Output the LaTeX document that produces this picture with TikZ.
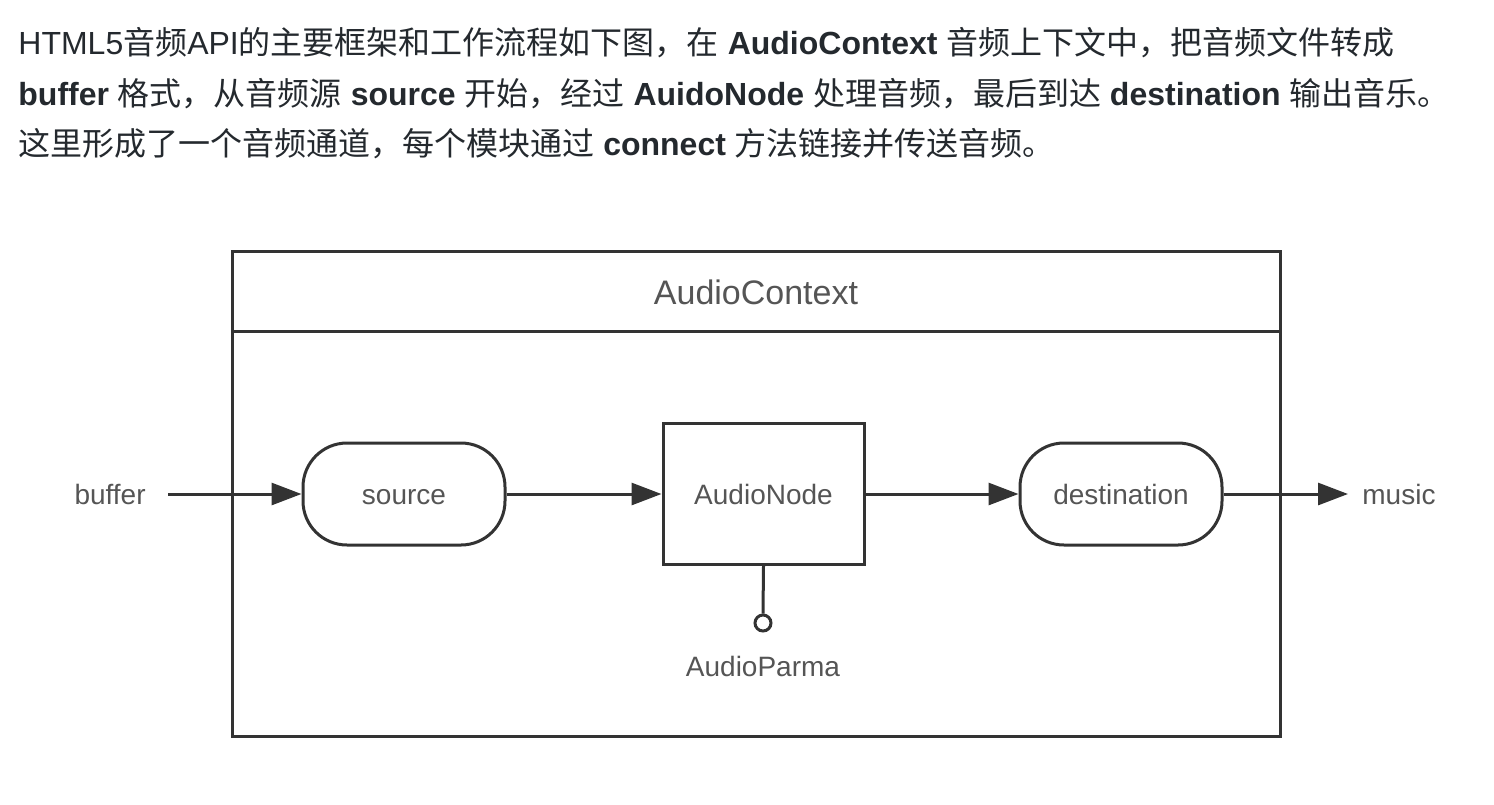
\documentclass[tikz,border=0pt]{standalone}
\usepackage{fontspec}
\setmainfont{Liberation Sans}
\newfontfamily\cjk{Noto Sans CJK SC}
\usetikzlibrary{arrows.meta}
\definecolor{txt}{HTML}{24292E}
\definecolor{dg}{HTML}{333333}
\definecolor{lb}{HTML}{555555}
\newcommand{\zh}[1]{{\cjk #1}}
\begin{document}
\begin{tikzpicture}[x=0.5pt,y=-0.5pt,
  para/.style={anchor=base west,inner sep=0pt,text=txt,font=\fontsize{16pt}{20pt}\selectfont},
  lbl/.style={text=lb,font=\fontsize{14pt}{17pt}\selectfont,text height=11pt,text depth=1pt},
  pill/.style={draw=dg,line width=1.5pt,rounded corners=22pt,minimum width=101pt,minimum height=51pt,text=lb,font=\fontsize{14pt}{17pt}\selectfont,text height=11pt,text depth=1pt},
  boxn/.style={draw=dg,line width=1.5pt,minimum width=100.5pt,minimum height=70.5pt,text=lb,font=\fontsize{14pt}{17pt}\selectfont,text height=11pt,text depth=1pt},
  flow/.style={draw=dg,line width=1.5pt,-{Triangle[length=15pt,width=11pt]}},
  frame/.style={draw=dg,line width=1.5pt}]
\useasboundingbox (0,0) rectangle (1494,804);
% paragraph
\node[para] (l1) at (18,54) {HTML5\zh{音频}API\zh{的主要框架和工作流程如下图，在} \textbf{AudioContext} \zh{音频上下文中，把音频文件转成}};
\node[para] (l2) at (18,105) {\textbf{buffer} \zh{格式，从音频源} \textbf{source} \zh{开始，经过} \textbf{AuidoNode} \zh{处理音频，最后到达} \textbf{destination} \zh{输出音乐。}};
\node[para] (l3) at (18,155) {\zh{这里形成了一个音频通道，每个模块通过} \textbf{connect} \zh{方法链接并传送音频。}};
% context frame
\draw[frame] (232,251) rectangle (1280,736);
\draw[frame] (232,331) -- (1280,331);
\node[text=lb,font=\fontsize{17pt}{20pt}\selectfont] (ctx) at (756,292) {AudioContext};
% nodes
\node[lbl,anchor=east,inner xsep=11pt] (buf) at (168,494) {buffer};
\node[pill] (src) at (404,494) {source};
\node[boxn] (an) at (763.5,494) {AudioNode};
\node[pill] (dst) at (1121,494) {destination};
\node[lbl,anchor=west,inner xsep=7pt] (mus) at (1348,494) {music};
\node[circle,draw=dg,line width=1.5pt,minimum size=8pt,inner sep=0pt] (pc) at (763,623) {};
\node[lbl] (ap) at (763,666) {AudioParma};
% connectors
\draw[flow] (buf.east) -- (src.west);
\draw[flow] (src.east) -- (an.west);
\draw[flow] (an.east) -- (dst.west);
\draw[flow] (dst.east) -- (mus.west);
\draw[frame] (an.south) -- (pc.north);
\end{tikzpicture}
\end{document}
